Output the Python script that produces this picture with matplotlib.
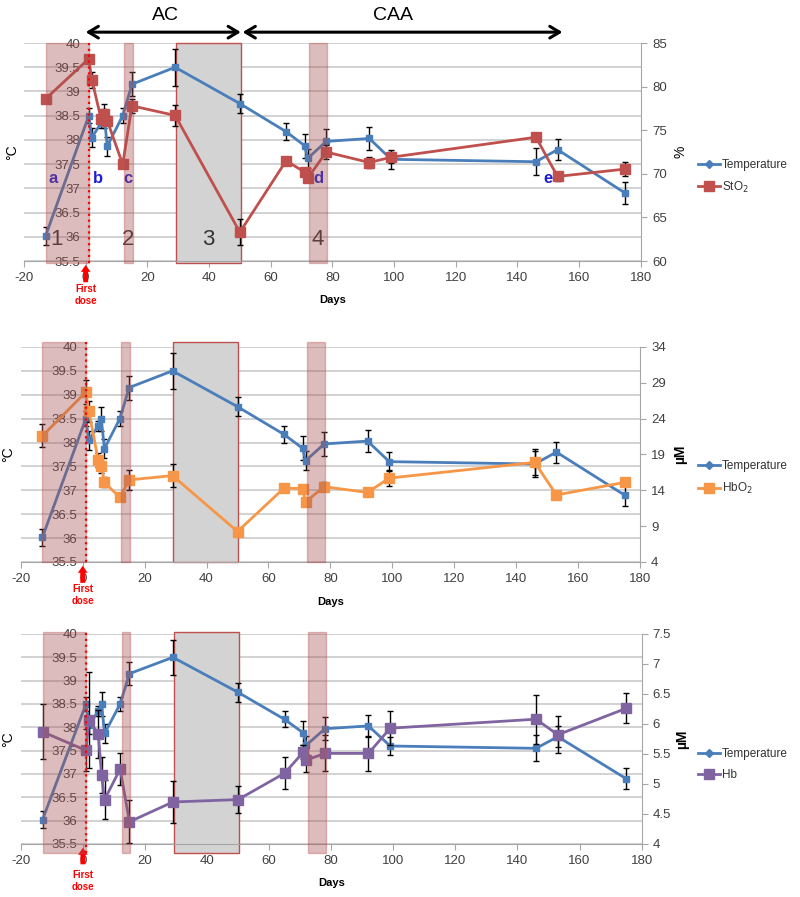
import matplotlib
matplotlib.use("Agg")
import matplotlib.pyplot as plt
from matplotlib.lines import Line2D
from matplotlib.patches import Rectangle
import matplotlib.transforms as mtrans
import numpy as np

plt.rcParams['font.family'] = ['Liberation Sans', 'DejaVu Sans']
plt.rcParams['axes.unicode_minus'] = False

# ---------------- data ----------------
days = [-13, 1, 2, 5, 6, 7, 12, 15, 29, 50, 65, 71, 72, 78, 92, 99, 146, 153, 175]
temp = [36.02, 38.5, 38.05, 38.35, 38.5, 37.87, 38.5, 39.15, 39.5, 38.75,
        38.17, 37.88, 37.62, 37.97, 38.03, 37.6, 37.55, 37.8, 36.9]
temp_err = [0.18, 0.15, 0.2, 0.1, 0.25, 0.2, 0.15, 0.25, 0.38, 0.2,
            0.17, 0.25, 0.2, 0.25, 0.23, 0.2, 0.28, 0.22, 0.23]

sto2 = [78.6, 83.2, 80.8, 76.3, 76.9, 76.1, 71.1, 77.8, 76.7, 63.3,
        71.5, 70.2, 69.5, 72.5, 71.3, 71.9, 74.2, 69.7, 70.55]
sto2_err = [0.0, 0.3, 0.9, 0.5, 0.5, 0.5, 0.3, 0.8, 1.2, 1.5,
            0.3, 0.5, 0.4, 0.8, 0.6, 0.6, 0.3, 0.5, 0.8]

hbo2 = [21.6, 27.7, 25.0, 18.2, 17.45, 15.1, 13.0, 15.45, 16.05, 8.25,
        14.3, 14.25, 12.4, 14.5, 13.7, 15.7, 17.9, 13.35, 15.1]
hbo2_err = [1.6, 1.7, 1.5, 1.0, 1.0, 0.7, 0.4, 1.4, 1.6, 0.3,
            0.3, 0.4, 0.4, 0.6, 0.3, 1.1, 1.8, 0.5, 0.4]

hb = [5.87, 5.56, 6.07, 5.83, 5.15, 4.74, 5.25, 4.37, 4.7, 4.74,
      5.18, 5.53, 5.4, 5.51, 5.51, 5.93, 6.08, 5.82, 6.26]
hb_err = [0.46, 0.35, 0.8, 0.4, 0.3, 0.33, 0.26, 0.36, 0.35, 0.22,
          0.27, 0.12, 0.2, 0.3, 0.29, 0.28, 0.41, 0.31, 0.25]

# shaded periods (start, end, is_grey)
periods = [(-13, 1, False), (12.5, 15.3, False), (29.3, 50.3, True), (72.5, 78.3, False)]
period_labels = ["1", "2", "3", "4"]
period_label_x = [-9.5, 13.7, 39.6, 75.3]
letter_labels = ["a", "b", "c", "d", "e"]
letter_x = [-10.7, 3.9, 13.8, 75.4, 149.9]
first_dose_day = 1

# ---------------- style ----------------
C_TEMP = '#4a7ebb'
C_GRID = '#c6c6c6'
C_TXT = '#404040'
PINK = '#a34f4f'
EDGE = '#c0504d'

fig = plt.figure(figsize=(8, 8.97), dpi=100)

panels = [
    dict(rect=[0.030, 0.709, 0.771, 0.243], y2=sto2, e2=sto2_err, c2='#c0504d',
         lab2='StO$_2$', ylim2=(60, 85), step2=5, ylabel2='%',
         leg_y=0.803, sp_top=40.0, sp_bot=35.46, letters=True),
    dict(rect=[0.026, 0.3735, 0.774, 0.2397], y2=hbo2, e2=hbo2_err, c2='#f79646',
         lab2='HbO$_2$', ylim2=(4, 34), step2=5, ylabel2='µM',
         leg_y=0.467, sp_top=40.1, sp_bot=35.5, letters=False),
    dict(rect=[0.026, 0.0591, 0.776, 0.2341], y2=hb, e2=hb_err, c2='#8064a2',
         lab2='Hb', ylim2=(4, 7.5), step2=0.5, ylabel2='µM',
         leg_y=0.148, sp_top=40.05, sp_bot=35.3, letters=False),
]

for i, p in enumerate(panels):
    ax = fig.add_axes(p['rect'])
    ax2 = ax.twinx()
    ax.set_xlim(-20, 180)
    ax.set_ylim(35.5, 40)
    ax2.set_ylim(*p['ylim2'])

    lt = np.arange(35.5, 40.01, 0.5)
    ax.set_yticks(lt)
    ax.set_yticklabels([('%g' % v) for v in lt])
    ax.set_xticks(range(-20, 181, 20))
    rt = np.arange(p['ylim2'][0], p['ylim2'][1] + 1e-6, p['step2'])
    ax2.set_yticks(rt)
    ax2.set_yticklabels([('%g' % v) for v in rt])

    ax.grid(axis='y', color=C_GRID, lw=1.1, zorder=0)
    ax.set_axisbelow(True)
    ax.spines['top'].set_visible(False)
    ax2.spines['top'].set_visible(False)
    ax.spines['left'].set_position(('data', 0))
    ax.spines['left'].set_visible(False)
    ax2.spines['left'].set_visible(False)
    ax.spines['right'].set_visible(False)
    ax2.spines['right'].set_color('#a6a6a6')
    ax2.spines['bottom'].set_visible(False)
    ax.spines['bottom'].set_color('#a6a6a6')
    ax.tick_params(axis='y', length=0, pad=4, labelsize=9.5, colors=C_TXT)
    ax.tick_params(axis='x', length=4, direction='out', color='#a6a6a6',
                   labelsize=9.5, labelcolor=C_TXT, pad=4)
    ax2.tick_params(axis='y', length=4, direction='out', color='#a6a6a6',
                    labelsize=9.5, labelcolor=C_TXT, pad=4)

    # temperature series
    ax.errorbar(days, temp, yerr=temp_err, color=C_TEMP, lw=2, marker='s',
                markersize=4, ecolor='black', elinewidth=1, capsize=2.5,
                capthick=1, zorder=3)
    # secondary series
    ax2.errorbar(days, p['y2'], yerr=p['e2'], color=p['c2'], lw=2, marker='s',
                 markersize=7.5, ecolor='black', elinewidth=1, capsize=2.5,
                 capthick=1, zorder=3)

    # shaded periods
    for (a, b, grey) in periods:
        if grey:
            r = Rectangle((a, p['sp_bot']), b - a, p['sp_top'] - p['sp_bot'],
                          transform=ax.transData, facecolor='#d3d3d3',
                          edgecolor=EDGE, lw=1.0, zorder=1, clip_on=False)
            ax.add_patch(r)
        else:
            r = Rectangle((a, p['sp_bot']), b - a, p['sp_top'] - p['sp_bot'],
                          transform=ax.transData, facecolor=PINK, alpha=0.38,
                          edgecolor=EDGE, lw=1.0, zorder=5, clip_on=False)
            ax2.add_patch(r)

    # first dose dotted line
    ax2.plot([first_dose_day, first_dose_day], [p['sp_bot'], p['sp_top']],
             transform=ax.transData, color='red', ls=':', lw=1.6, zorder=6,
             clip_on=False)

    bt = mtrans.blended_transform_factory(ax.transData, ax.transAxes)
    # first dose arrow and text
    ax.annotate('', xy=(0, -0.005), xytext=(0, -0.11), xycoords=bt, textcoords=bt,
                arrowprops=dict(arrowstyle='simple,head_width=0.7,head_length=0.5,tail_width=0.35',
                                color='red', lw=0), annotation_clip=False)
    fd_y = [-0.158, -0.153, -0.178][i]
    ax.text(0, fd_y, 'First\ndose', transform=bt,
            ha='center', va='center', color='red', fontsize=7, fontweight='bold',
            linespacing=1.25)

    # axis labels
    ax.text(0.5, [-0.179, -0.185, -0.186][i], 'Days', transform=ax.transAxes,
            ha='center', va='center', fontsize=8, fontweight='bold', color='black')
    ax.text(-0.02, 0.5, '°C', transform=ax.transAxes, rotation=90, ha='center',
            va='center', fontsize=10, color='black')
    ax2.text(1.065, 0.5, p['ylabel2'], transform=ax.transAxes, rotation=90,
             ha='center', va='center', fontsize=10,
             fontweight='bold' if p['ylabel2'] != '%' else 'normal', color='black')

    # legend
    handles = [Line2D([], [], color=C_TEMP, lw=2, marker='D', markersize=4),
               Line2D([], [], color=p['c2'], lw=2, marker='s', markersize=7)]
    fig.legend(handles, ['Temperature', p['lab2']], loc='center left',
               bbox_to_anchor=(0.872, p['leg_y']), frameon=False, fontsize=8.5,
               handlelength=1.9, handletextpad=0.15, labelspacing=0.75,
               borderaxespad=0, borderpad=0, labelcolor='#333333')

    if p['letters']:
        for lab, lx in zip(period_labels, period_label_x):
            ax.text(lx, 35.95, lab, ha='center', va='center', fontsize=16,
                    color='#333333', zorder=7)
        for lab, lx in zip(letter_labels, letter_x):
            ax.text(lx, 37.2, lab, ha='center', va='center', fontsize=12,
                    color='#1f1fd6', fontweight='bold', zorder=7)
        ax.annotate('', xy=(0, 1.05), xytext=(50.3, 1.05), xycoords=bt, textcoords=bt,
                    arrowprops=dict(arrowstyle='<->,head_length=0.5,head_width=0.3',
                                    color='black', lw=2.2, mutation_scale=14,
                                    shrinkA=0, shrinkB=0),
                    annotation_clip=False)
        ax.annotate('', xy=(50.9, 1.05), xytext=(154.6, 1.05), xycoords=bt, textcoords=bt,
                    arrowprops=dict(arrowstyle='<->,head_length=0.5,head_width=0.3',
                                    color='black', lw=2.2, mutation_scale=14,
                                    shrinkA=0, shrinkB=0),
                    annotation_clip=False)
        ax.text(26, 1.125, 'AC', transform=bt, ha='center', va='center',
                fontsize=14, color='black')
        ax.text(99.7, 1.125, 'CAA', transform=bt, ha='center', va='center',
                fontsize=14, color='black')

fig.savefig('out.png', dpi=100)
